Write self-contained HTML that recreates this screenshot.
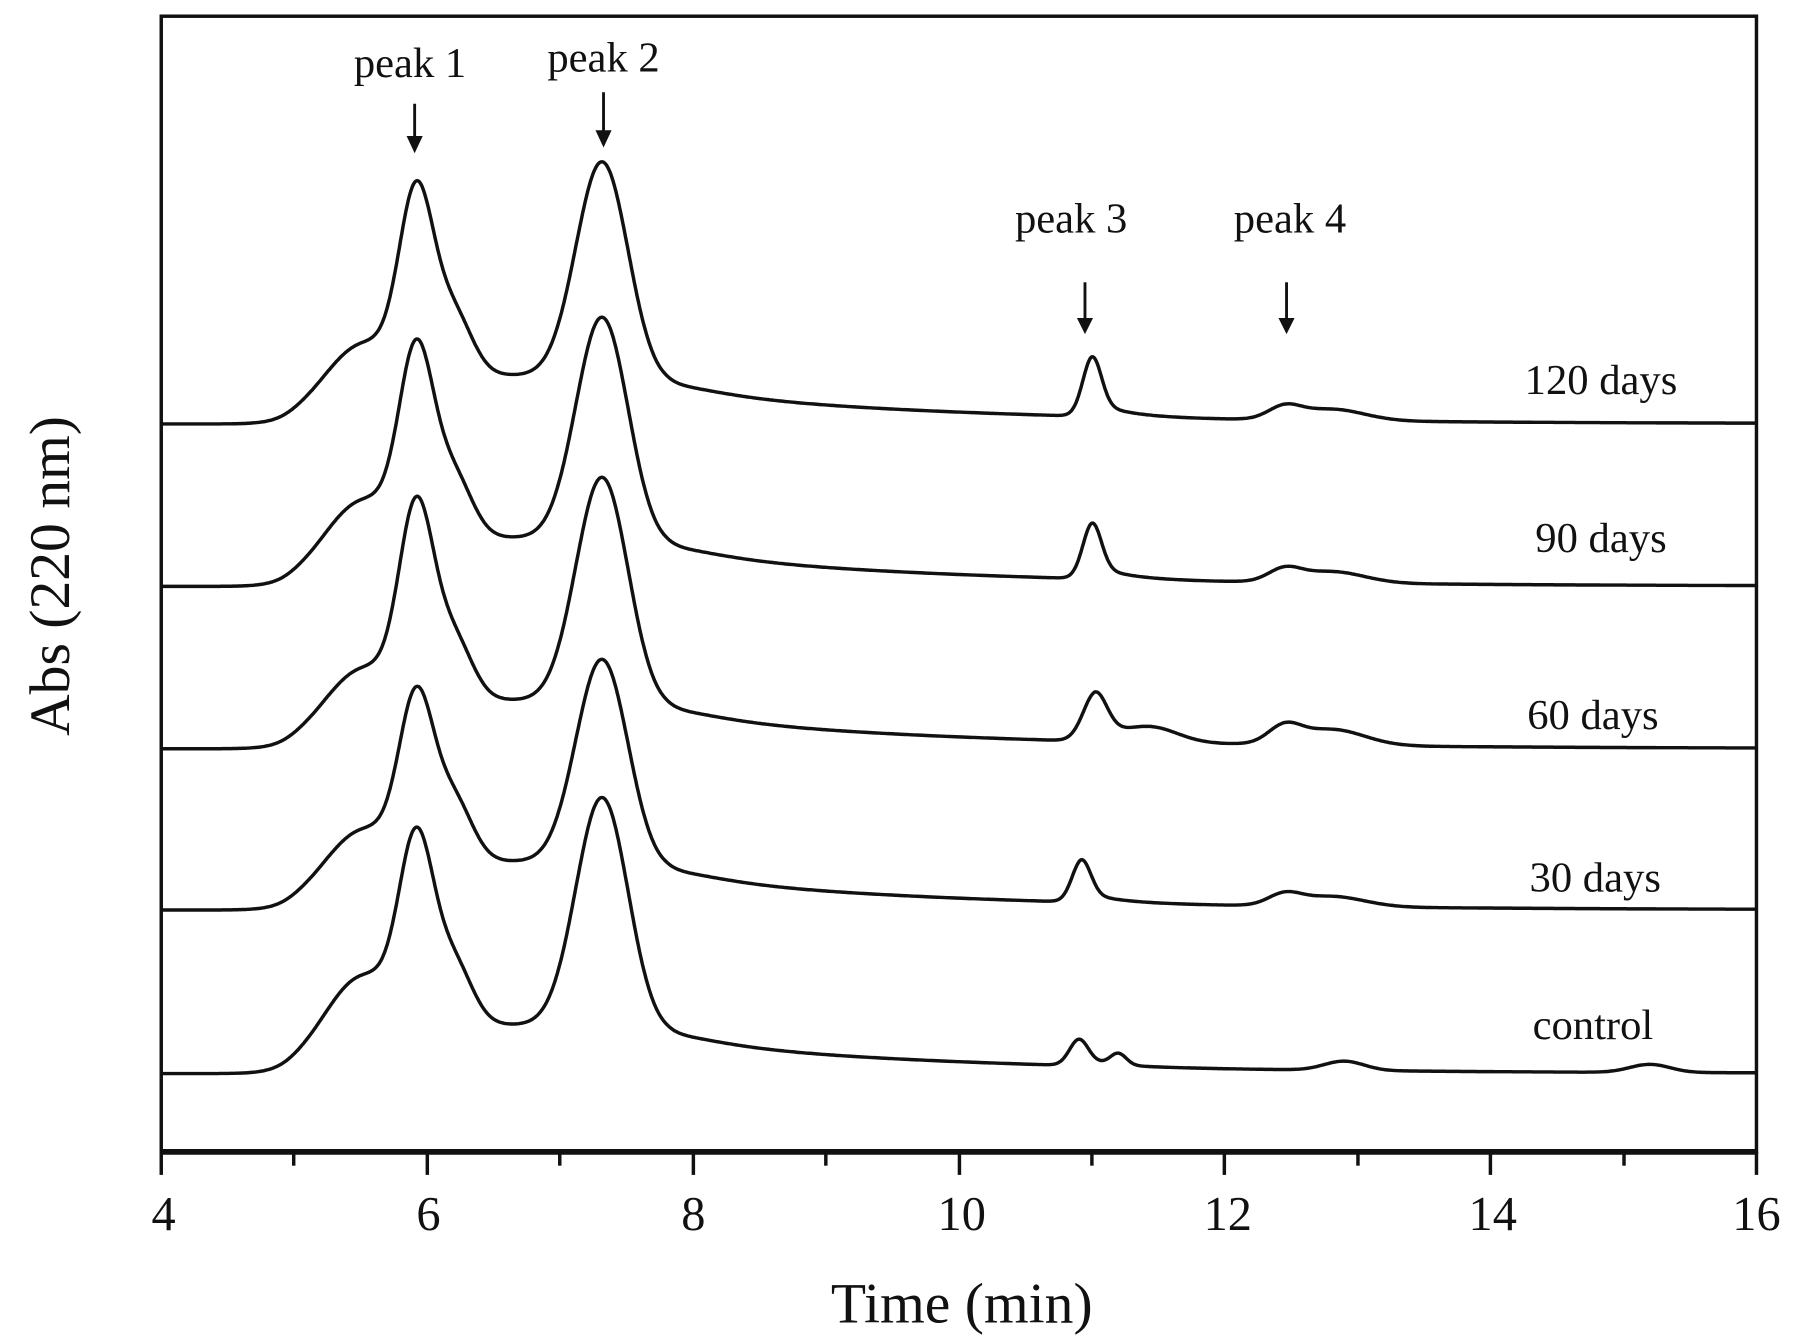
<!DOCTYPE html>
<html><head><meta charset="utf-8"><style>
html,body{margin:0;padding:0;background:#fff;}
svg{display:block;}
text{font-family:"Liberation Serif",serif;fill:#111;}
</style></head><body>
<svg id="s" width="1806" height="1342" viewBox="0 0 1568 1165" xmlns="http://www.w3.org/2000/svg">
<rect x="140" y="14" width="1385" height="986" fill="none" stroke="#111" stroke-width="3"/>
<line x1="139" y1="1000" x2="1526" y2="1000" stroke="#111" stroke-width="5"/>
<g stroke="#111" stroke-width="3">
<line x1="140" y1="1000" x2="140" y2="1020"/><line x1="255" y1="1000" x2="255" y2="1012"/>
<line x1="371" y1="1000" x2="371" y2="1020"/><line x1="486" y1="1000" x2="486" y2="1012"/>
<line x1="602" y1="1000" x2="602" y2="1020"/><line x1="717" y1="1000" x2="717" y2="1012"/>
<line x1="833" y1="1000" x2="833" y2="1020"/><line x1="948" y1="1000" x2="948" y2="1012"/>
<line x1="1063" y1="1000" x2="1063" y2="1020"/><line x1="1179" y1="1000" x2="1179" y2="1012"/>
<line x1="1294" y1="1000" x2="1294" y2="1020"/><line x1="1410" y1="1000" x2="1410" y2="1012"/>
<line x1="1525" y1="1000" x2="1525" y2="1020"/>
</g>
<g font-size="42" text-anchor="middle">
<text x="142" y="1068">4</text><text x="372" y="1068">6</text><text x="602" y="1068">8</text>
<text x="835" y="1068">10</text><text x="1066" y="1068">12</text><text x="1296" y="1068">14</text><text x="1525" y="1068">16</text>
</g>
<text x="835" y="1148" font-size="50" text-anchor="middle">Time (min)</text>
<text transform="translate(60,500) rotate(-90)" font-size="50" text-anchor="middle">Abs (220 nm)</text>
<g font-size="37" text-anchor="middle">
<text x="356" y="67">peak 1</text><text x="524" y="62">peak 2</text>
<text x="930" y="202">peak 3</text><text x="1120" y="202">peak 4</text>
</g>
<g stroke="#111" stroke-width="2.5"><line x1="360" y1="90" x2="360" y2="122"/><line x1="524" y1="80" x2="524" y2="117"/>
<line x1="942" y1="245" x2="942" y2="280"/><line x1="1117" y1="245" x2="1117" y2="280"/></g>
<g fill="#111"><polygon points="353,118 367,118 360,133"/><polygon points="517,113 531,113 524,128"/>
<polygon points="935,276 949,276 942,290"/><polygon points="1110,276 1124,276 1117,290"/></g>
<g font-size="37" text-anchor="middle">
<text x="1390" y="342">120 days</text><text x="1390" y="479">90 days</text>
<text x="1383" y="633">60 days</text><text x="1385" y="774">30 days</text><text x="1383" y="902">control</text>
</g>
<g id="tr" fill="none" stroke="#111" stroke-width="3" stroke-linejoin="round"></g>
</svg>
<script>
function g(t,a,m,s){return a*Math.exp(-(t-m)*(t-m)/(2*s*s));}
function sig(t,m,w){return 1/(1+Math.exp(-(t-m)/w));}
var traces=[
 {b:368,p1:158,p2:200,sh:55,p3:45,p3m:11.0,p3w:0.07,p4:10,extra:0},
 {b:509,p1:160,p2:206,sh:60,p3:42,p3m:11.0,p3w:0.07,p4:10,extra:0},
 {b:650,p1:166,p2:208,sh:55,p3:36,p3m:11.02,p3w:0.09,p4:14,extra:1},
 {b:790,p1:141,p2:190,sh:55,p3:32,p3m:10.92,p3w:0.07,p4:9,extra:0},
 {b:932,p1:156,p2:212,sh:70,p3:20,p3m:10.9,p3w:0.07,p4:0,extra:2}
];
var out='';
traces.forEach(function(T){
 var d='';
 for(var t=4;t<=16.001;t+=0.01){
  var A=0;
  A+=g(t,T.sh,5.5,0.28);
  A+=g(t,T.p1,5.92,0.13);
  A+=g(t,55,6.2,0.14);
  A+=g(t,42,6.6,0.75)*sig(t,4.95,0.06);
  A+=g(t,T.p2,7.32,0.2);
  A+=28*sig(t,7.7,0.12)*Math.exp(-Math.max(0,t-7.8)/2.2);
  A+=g(t,T.p3,T.p3m,T.p3w)+T.p3*0.3*sig(t,T.p3m,0.04)*Math.exp(-Math.max(0,t-T.p3m)/0.25);
  if(T.extra==1)A+=g(t,12,11.45,0.2);
  A+=g(t,T.p4,12.45,0.12)+g(t,T.p4,12.8,0.25);
  if(T.extra==2){A+=g(t,10,11.2,0.06)+g(t,8,12.9,0.15)+g(t,7,15.2,0.15);}
  var x=140+(t-4)*115.4, y=T.b-A;
  d+=(d?'L':'M')+x.toFixed(1)+','+y.toFixed(1);
 }
 out+='<path d="'+d+'"/>';
});
document.getElementById('tr').innerHTML=out;
</script>
</body></html>
